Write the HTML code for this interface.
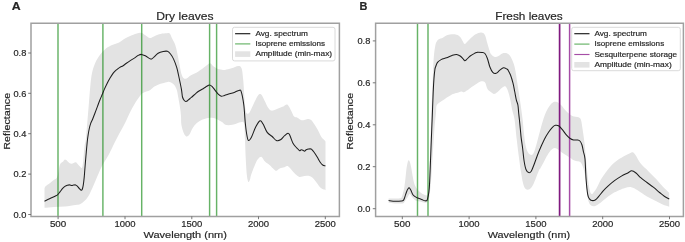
<!DOCTYPE html>
<html><head><meta charset="utf-8"><style>
html,body{margin:0;padding:0;background:#fff;}
body{width:685px;height:242px;overflow:hidden;}
svg{display:block;will-change:transform;filter:blur(0.35px);}
text{font-family:"Liberation Sans", sans-serif;fill:#262626;stroke:#262626;stroke-width:0.18px;}
</style></head><body>
<svg width="685" height="242" viewBox="0 0 685 242">
<rect x="0" y="0" width="685" height="242" fill="#fff"/>
<clipPath id="ca"><rect x="31" y="23.2" width="308.4" height="193.20000000000002"/></clipPath>
<g clip-path="url(#ca)">
<path d="M44.50,188.50 C44.60,188.22 44.77,187.32 45.10,186.80 C45.43,186.28 45.90,185.88 46.50,185.40 C47.10,184.92 47.85,184.52 48.70,183.90 C49.55,183.28 50.63,182.42 51.60,181.70 C52.57,180.98 53.65,180.20 54.50,179.60 C55.35,179.00 56.10,179.07 56.70,178.10 C57.30,177.13 57.62,175.85 58.10,173.80 C58.58,171.75 59.12,167.62 59.60,165.80 C60.08,163.98 60.40,163.63 61.00,162.90 C61.60,162.17 62.53,161.95 63.20,161.40 C63.87,160.85 64.33,159.68 65.00,159.60 C65.67,159.52 66.48,160.33 67.20,160.90 C67.92,161.47 68.58,162.52 69.30,163.00 C70.02,163.48 70.77,163.80 71.50,163.80 C72.23,163.80 72.97,163.25 73.70,163.00 C74.43,162.75 75.18,162.05 75.90,162.30 C76.62,162.55 77.28,163.77 78.00,164.50 C78.72,165.23 79.58,166.12 80.20,166.70 C80.82,167.28 81.30,168.20 81.70,168.00 C82.10,167.80 82.33,166.83 82.60,165.50 C82.87,164.17 83.10,161.87 83.30,160.00 C83.50,158.13 83.58,156.63 83.80,154.30 C84.02,151.97 84.22,148.92 84.60,146.00 C84.98,143.08 85.40,143.72 86.10,136.80 C86.80,129.88 87.95,114.30 88.80,104.50 C89.65,94.70 90.28,84.55 91.20,78.00 C92.12,71.45 93.08,68.72 94.30,65.20 C95.52,61.68 96.77,59.48 98.50,56.90 C100.23,54.32 102.63,51.58 104.70,49.70 C106.77,47.82 108.50,46.80 110.90,45.60 C113.30,44.40 116.75,43.68 119.10,42.50 C121.45,41.32 122.63,39.80 125.00,38.50 C127.37,37.20 130.72,35.67 133.30,34.70 C135.88,33.73 138.43,32.58 140.50,32.70 C142.57,32.82 144.15,34.52 145.70,35.40 C147.25,36.28 148.43,37.83 149.80,38.00 C151.17,38.17 152.35,37.02 153.90,36.40 C155.45,35.78 157.20,34.82 159.10,34.30 C161.00,33.78 163.58,33.47 165.30,33.30 C167.02,33.13 168.28,32.47 169.40,33.30 C170.52,34.13 171.05,36.43 172.00,38.30 C172.95,40.17 174.23,42.10 175.10,44.50 C175.97,46.90 176.52,49.60 177.20,52.70 C177.88,55.80 178.52,59.65 179.20,63.10 C179.88,66.55 180.60,70.93 181.30,73.40 C182.00,75.87 182.53,77.03 183.40,77.90 C184.27,78.77 185.30,79.00 186.50,78.60 C187.70,78.20 188.88,76.53 190.60,75.50 C192.32,74.47 194.73,73.62 196.80,72.40 C198.87,71.18 201.28,69.42 203.00,68.20 C204.72,66.98 205.90,65.92 207.10,65.10 C208.30,64.28 209.17,63.12 210.20,63.30 C211.23,63.48 212.27,65.38 213.30,66.20 C214.33,67.02 215.37,67.68 216.40,68.20 C217.43,68.72 218.57,69.05 219.50,69.30 C220.43,69.55 221.08,69.60 222.00,69.70 C222.92,69.80 223.40,70.13 225.00,69.90 C226.60,69.67 229.40,68.95 231.60,68.30 C233.80,67.65 236.55,66.00 238.20,66.00 C239.85,66.00 240.67,66.00 241.50,68.30 C242.33,70.60 242.53,72.92 243.20,79.80 C243.87,86.68 244.62,103.98 245.50,109.60 C246.38,115.22 247.50,113.68 248.50,113.50 C249.50,113.32 250.42,110.58 251.50,108.50 C252.58,106.42 253.92,103.17 255.00,101.00 C256.08,98.83 257.17,96.67 258.00,95.50 C258.83,94.33 259.33,94.00 260.00,94.00 C260.67,94.00 261.17,94.25 262.00,95.50 C262.83,96.75 264.00,99.50 265.00,101.50 C266.00,103.50 266.95,105.98 268.00,107.50 C269.05,109.02 269.90,110.32 271.30,110.60 C272.70,110.88 274.42,109.87 276.40,109.20 C278.38,108.53 281.77,107.27 283.20,106.60 C284.63,105.93 284.32,105.55 285.00,105.20 C285.68,104.85 286.55,104.12 287.30,104.50 C288.05,104.88 288.75,106.25 289.50,107.50 C290.25,108.75 291.03,110.48 291.80,112.00 C292.57,113.52 293.15,115.65 294.10,116.60 C295.05,117.55 296.37,117.13 297.50,117.70 C298.63,118.27 299.77,119.62 300.90,120.00 C302.03,120.38 303.17,120.18 304.30,120.00 C305.43,119.82 306.57,118.90 307.70,118.90 C308.83,118.90 309.97,119.07 311.10,120.00 C312.23,120.93 313.35,122.80 314.50,124.50 C315.65,126.20 316.85,128.12 318.00,130.20 C319.15,132.28 320.27,135.28 321.40,137.00 C322.53,138.72 324.12,139.75 324.80,140.50 C325.48,141.25 325.38,141.33 325.50,141.50 L325.50,190.30 C325.10,190.13 324.02,189.82 323.10,189.30 C322.18,188.78 321.03,188.23 320.00,187.20 C318.97,186.17 317.93,184.48 316.90,183.10 C315.87,181.72 314.83,180.02 313.80,178.90 C312.77,177.78 311.92,176.92 310.70,176.40 C309.48,175.88 307.88,175.80 306.50,175.80 C305.12,175.80 303.60,176.22 302.40,176.40 C301.20,176.58 300.33,177.17 299.30,176.90 C298.27,176.63 297.23,175.67 296.20,174.80 C295.17,173.93 294.52,173.15 293.10,171.70 C291.68,170.25 289.17,166.83 287.70,166.10 C286.23,165.37 285.62,166.92 284.30,167.30 C282.98,167.68 281.12,167.83 279.80,168.40 C278.48,168.97 277.35,170.52 276.40,170.70 C275.45,170.88 275.25,170.45 274.10,169.50 C272.95,168.55 271.02,166.32 269.50,165.00 C267.98,163.68 266.32,162.93 265.00,161.60 C263.68,160.27 262.68,157.52 261.60,157.00 C260.52,156.48 259.45,157.55 258.50,158.50 C257.55,159.45 257.08,160.10 255.90,162.70 C254.72,165.30 252.38,171.30 251.40,174.10 C250.42,176.90 250.47,178.18 250.00,179.50 C249.53,180.82 248.97,181.83 248.60,182.00 C248.23,182.17 248.10,181.75 247.80,180.50 C247.50,179.25 247.15,178.25 246.80,174.50 C246.45,170.75 246.00,163.75 245.70,158.00 C245.40,152.25 245.28,145.75 245.00,140.00 C244.72,134.25 244.75,126.45 244.00,123.50 C243.25,120.55 242.23,122.13 240.50,122.30 C238.77,122.47 235.98,124.05 233.60,124.50 C231.22,124.95 228.13,125.42 226.20,125.00 C224.27,124.58 223.45,122.92 222.00,122.00 C220.55,121.08 218.95,120.17 217.50,119.50 C216.05,118.83 214.85,118.25 213.30,118.00 C211.75,117.75 210.08,117.70 208.20,118.00 C206.32,118.30 203.90,118.97 202.00,119.80 C200.10,120.63 198.35,121.62 196.80,123.00 C195.25,124.38 193.90,126.22 192.70,128.10 C191.50,129.98 190.57,132.90 189.60,134.30 C188.63,135.70 187.70,136.38 186.90,136.50 C186.10,136.62 185.45,135.92 184.80,135.00 C184.15,134.08 183.58,132.83 183.00,131.00 C182.42,129.17 181.63,126.50 181.30,124.00 C180.97,121.50 181.20,118.65 181.00,116.00 C180.80,113.35 180.53,111.08 180.10,108.10 C179.67,105.12 178.95,101.13 178.40,98.10 C177.85,95.07 177.48,92.10 176.80,89.90 C176.12,87.70 175.27,86.15 174.30,84.90 C173.33,83.65 172.10,82.90 171.00,82.40 C169.90,81.90 169.08,81.75 167.70,81.90 C166.32,82.05 164.22,82.85 162.70,83.30 C161.18,83.75 159.98,84.05 158.60,84.60 C157.22,85.15 155.78,85.72 154.40,86.60 C153.02,87.48 151.67,89.08 150.30,89.90 C148.93,90.72 147.58,90.90 146.20,91.50 C144.82,92.10 143.10,92.67 142.00,93.50 C140.90,94.33 140.83,94.77 139.60,96.50 C138.37,98.23 136.25,101.15 134.60,103.90 C132.95,106.65 131.33,109.72 129.70,113.00 C128.07,116.28 126.85,119.55 124.80,123.60 C122.75,127.65 119.67,132.95 117.40,137.30 C115.13,141.65 112.87,146.40 111.20,149.70 C109.53,153.00 108.60,154.97 107.40,157.10 C106.20,159.23 104.98,160.85 104.00,162.50 C103.02,164.15 102.40,165.18 101.50,167.00 C100.60,168.82 99.60,171.12 98.60,173.40 C97.60,175.68 96.53,178.28 95.50,180.70 C94.47,183.12 93.60,185.32 92.40,187.90 C91.20,190.48 89.68,193.97 88.30,196.20 C86.92,198.43 85.48,199.97 84.10,201.30 C82.72,202.63 81.42,203.58 80.00,204.20 C78.58,204.82 78.12,204.62 75.60,205.00 C73.08,205.38 68.48,206.17 64.90,206.50 C61.32,206.83 57.50,206.78 54.10,207.00 C50.70,207.22 46.10,207.67 44.50,207.80 Z" fill="#e3e3e3" stroke="none"/>
<line x1="58.0" y1="23.2" x2="58.0" y2="216.4" stroke="#008000" stroke-opacity="0.6" stroke-width="1.45"/>
<line x1="102.9" y1="23.2" x2="102.9" y2="216.4" stroke="#008000" stroke-opacity="0.6" stroke-width="1.45"/>
<line x1="141.7" y1="23.2" x2="141.7" y2="216.4" stroke="#008000" stroke-opacity="0.6" stroke-width="1.45"/>
<line x1="209.6" y1="23.2" x2="209.6" y2="216.4" stroke="#008000" stroke-opacity="0.6" stroke-width="1.45"/>
<line x1="216.6" y1="23.2" x2="216.6" y2="216.4" stroke="#008000" stroke-opacity="0.6" stroke-width="1.45"/>
<path d="M44.50,201.20 C45.43,200.75 48.35,199.33 50.10,198.50 C51.85,197.67 53.77,196.82 55.00,196.20 C56.23,195.58 56.67,195.52 57.50,194.80 C58.33,194.08 59.18,192.92 60.00,191.90 C60.82,190.88 61.58,189.62 62.40,188.70 C63.22,187.78 64.07,186.98 64.90,186.40 C65.73,185.82 66.57,185.45 67.40,185.20 C68.23,184.95 69.18,184.85 69.90,184.90 C70.62,184.95 71.08,185.47 71.70,185.50 C72.32,185.53 72.97,185.20 73.60,185.10 C74.23,185.00 74.88,184.73 75.50,184.90 C76.12,185.07 76.68,185.52 77.30,186.10 C77.92,186.68 78.57,187.72 79.20,188.40 C79.83,189.08 80.58,190.07 81.10,190.20 C81.62,190.33 81.93,190.08 82.30,189.20 C82.67,188.32 82.98,186.87 83.30,184.90 C83.62,182.93 83.95,179.88 84.20,177.40 C84.45,174.92 84.57,172.90 84.80,170.00 C85.03,167.10 85.35,163.00 85.60,160.00 C85.85,157.00 86.02,155.12 86.30,152.00 C86.58,148.88 86.98,144.22 87.30,141.30 C87.62,138.38 87.87,136.63 88.20,134.50 C88.53,132.37 88.87,130.38 89.30,128.50 C89.73,126.62 90.27,124.70 90.80,123.20 C91.33,121.70 91.80,121.20 92.50,119.50 C93.20,117.80 94.18,115.15 95.00,113.00 C95.82,110.85 96.58,108.77 97.40,106.60 C98.22,104.43 99.10,102.02 99.90,100.00 C100.70,97.98 101.48,96.23 102.20,94.50 C102.92,92.77 103.47,91.28 104.20,89.60 C104.93,87.92 105.65,86.28 106.60,84.40 C107.55,82.52 108.80,80.18 109.90,78.30 C111.00,76.42 112.10,74.52 113.20,73.10 C114.30,71.68 115.40,70.75 116.50,69.80 C117.60,68.85 118.70,68.08 119.80,67.40 C120.90,66.72 122.00,66.40 123.10,65.70 C124.20,65.00 125.02,64.17 126.40,63.20 C127.78,62.23 129.88,60.87 131.40,59.90 C132.92,58.93 134.40,58.13 135.50,57.40 C136.60,56.67 137.00,56.00 138.00,55.50 C139.00,55.00 140.22,54.32 141.50,54.40 C142.78,54.48 144.15,55.22 145.70,56.00 C147.25,56.78 149.43,58.92 150.80,59.10 C152.17,59.28 152.68,58.07 153.90,57.10 C155.12,56.13 156.55,54.23 158.10,53.30 C159.65,52.37 161.65,51.83 163.20,51.50 C164.75,51.17 166.18,50.88 167.40,51.30 C168.62,51.72 169.47,52.70 170.50,54.00 C171.53,55.30 172.57,56.87 173.60,59.10 C174.63,61.33 175.88,64.75 176.70,67.40 C177.52,70.05 177.72,71.38 178.50,75.00 C179.28,78.62 180.73,85.43 181.40,89.10 C182.07,92.77 182.02,95.10 182.50,97.00 C182.98,98.90 183.75,99.75 184.30,100.50 C184.85,101.25 185.27,101.45 185.80,101.50 C186.33,101.55 186.80,101.30 187.50,100.80 C188.20,100.30 189.18,99.22 190.00,98.50 C190.82,97.78 191.48,97.28 192.40,96.50 C193.32,95.72 194.47,94.67 195.50,93.80 C196.53,92.93 197.22,92.23 198.60,91.30 C199.98,90.37 202.42,89.03 203.80,88.20 C205.18,87.37 205.98,86.83 206.90,86.30 C207.82,85.77 208.45,84.98 209.30,85.00 C210.15,85.02 211.03,85.52 212.00,86.40 C212.97,87.28 214.07,89.00 215.10,90.30 C216.13,91.60 217.17,93.22 218.20,94.20 C219.23,95.18 220.27,95.98 221.30,96.20 C222.33,96.42 223.02,95.90 224.40,95.50 C225.78,95.10 227.87,94.35 229.60,93.80 C231.33,93.25 233.25,92.77 234.80,92.20 C236.35,91.63 237.83,90.50 238.90,90.40 C239.97,90.30 240.38,89.17 241.20,91.60 C242.02,94.03 243.13,99.93 243.80,105.00 C244.47,110.07 244.73,117.25 245.20,122.00 C245.67,126.75 246.08,130.45 246.60,133.50 C247.12,136.55 247.52,139.63 248.30,140.30 C249.08,140.97 250.05,139.75 251.30,137.50 C252.55,135.25 254.33,129.58 255.80,126.80 C257.27,124.02 258.88,121.25 260.10,120.80 C261.32,120.35 261.92,122.17 263.10,124.10 C264.28,126.03 265.68,130.33 267.20,132.40 C268.72,134.47 270.68,135.17 272.20,136.50 C273.72,137.83 274.92,139.85 276.30,140.40 C277.68,140.95 279.12,140.58 280.50,139.80 C281.88,139.02 283.35,136.78 284.60,135.70 C285.85,134.62 287.15,133.42 288.00,133.30 C288.85,133.18 289.15,134.03 289.70,135.00 C290.25,135.97 290.75,137.73 291.30,139.10 C291.85,140.47 292.32,141.97 293.00,143.20 C293.68,144.43 294.58,145.53 295.40,146.50 C296.22,147.47 297.20,148.30 297.90,149.00 C298.60,149.70 299.05,150.57 299.60,150.70 C300.15,150.83 300.65,149.88 301.20,149.80 C301.75,149.72 302.35,149.97 302.90,150.20 C303.45,150.43 303.95,151.27 304.50,151.20 C305.05,151.13 305.50,150.17 306.20,149.80 C306.90,149.43 307.88,149.13 308.70,149.00 C309.52,148.87 310.42,148.72 311.10,149.00 C311.78,149.28 312.10,149.87 312.80,150.70 C313.50,151.53 314.47,152.77 315.30,154.00 C316.13,155.23 316.98,156.73 317.80,158.10 C318.62,159.47 319.38,161.05 320.20,162.20 C321.02,163.35 321.83,164.37 322.70,165.00 C323.57,165.63 324.95,165.83 325.40,166.00" fill="none" stroke="#1e1e1e" stroke-width="1.05" stroke-linejoin="round"/>
</g>
<path d="M31,23.2 H339.4 V216.4 H31 Z" fill="none" stroke="#a0a0a0" stroke-width="1.5" stroke-linecap="square"/>
<line x1="58.1" y1="216.4" x2="58.1" y2="219.20000000000002" stroke="#6a6a6a" stroke-width="0.9"/>
<line x1="125.0" y1="216.4" x2="125.0" y2="219.20000000000002" stroke="#6a6a6a" stroke-width="0.9"/>
<line x1="191.8" y1="216.4" x2="191.8" y2="219.20000000000002" stroke="#6a6a6a" stroke-width="0.9"/>
<line x1="258.5" y1="216.4" x2="258.5" y2="219.20000000000002" stroke="#6a6a6a" stroke-width="0.9"/>
<line x1="325.3" y1="216.4" x2="325.3" y2="219.20000000000002" stroke="#6a6a6a" stroke-width="0.9"/>
<line x1="28.2" y1="214.5" x2="31" y2="214.5" stroke="#6a6a6a" stroke-width="0.9"/>
<line x1="28.2" y1="174.1" x2="31" y2="174.1" stroke="#6a6a6a" stroke-width="0.9"/>
<line x1="28.2" y1="133.7" x2="31" y2="133.7" stroke="#6a6a6a" stroke-width="0.9"/>
<line x1="28.2" y1="93.3" x2="31" y2="93.3" stroke="#6a6a6a" stroke-width="0.9"/>
<line x1="28.2" y1="53.0" x2="31" y2="53.0" stroke="#6a6a6a" stroke-width="0.9"/>
<clipPath id="cb"><rect x="375.6" y="23.2" width="307.79999999999995" height="193.20000000000002"/></clipPath>
<g clip-path="url(#cb)">
<path d="M388.60,198.40 C390.35,198.40 396.95,198.55 399.10,198.40 C401.25,198.25 400.77,198.73 401.50,197.50 C402.23,196.27 403.00,192.92 403.50,191.00 C404.00,189.08 404.17,188.17 404.50,186.00 C404.83,183.83 405.17,180.92 405.50,178.00 C405.83,175.08 406.13,171.13 406.50,168.50 C406.87,165.87 407.32,163.57 407.70,162.20 C408.08,160.83 408.42,160.25 408.80,160.30 C409.18,160.35 409.60,161.30 410.00,162.50 C410.40,163.70 410.87,165.88 411.20,167.50 C411.53,169.12 411.70,170.45 412.00,172.20 C412.30,173.95 412.65,176.20 413.00,178.00 C413.35,179.80 413.68,181.58 414.10,183.00 C414.52,184.42 414.95,185.43 415.50,186.50 C416.05,187.57 416.57,188.40 417.40,189.40 C418.23,190.40 419.43,191.63 420.50,192.50 C421.57,193.37 422.80,194.12 423.80,194.60 C424.80,195.08 425.83,195.75 426.50,195.40 C427.17,195.05 427.42,194.73 427.80,192.50 C428.18,190.27 428.43,188.25 428.80,182.00 C429.17,175.75 429.63,164.50 430.00,155.00 C430.37,145.50 430.67,134.67 431.00,125.00 C431.33,115.33 431.70,104.83 432.00,97.00 C432.30,89.17 432.57,83.67 432.80,78.00 C433.03,72.33 433.15,67.33 433.40,63.00 C433.65,58.67 433.93,55.13 434.30,52.00 C434.67,48.87 435.18,45.95 435.60,44.20 C436.02,42.45 436.33,42.27 436.80,41.50 C437.27,40.73 437.78,40.08 438.40,39.60 C439.02,39.12 439.75,38.90 440.50,38.60 C441.25,38.30 441.73,38.38 442.90,37.80 C444.07,37.22 445.98,35.70 447.50,35.10 C449.02,34.50 450.50,34.27 452.00,34.20 C453.50,34.13 455.13,34.25 456.50,34.70 C457.87,35.15 459.13,35.77 460.20,36.90 C461.27,38.03 462.15,40.32 462.90,41.50 C463.65,42.68 463.93,44.00 464.70,44.00 C465.47,44.00 466.43,42.53 467.50,41.50 C468.57,40.47 469.75,39.02 471.10,37.80 C472.45,36.58 473.92,35.10 475.60,34.20 C477.28,33.30 479.65,32.28 481.20,32.40 C482.75,32.52 483.87,33.05 484.90,34.90 C485.93,36.75 486.63,40.90 487.40,43.50 C488.17,46.10 488.88,48.70 489.50,50.50 C490.12,52.30 490.22,53.22 491.10,54.30 C491.98,55.38 493.57,56.72 494.80,57.00 C496.03,57.28 497.25,56.58 498.50,56.00 C499.75,55.42 500.85,53.92 502.30,53.50 C503.75,53.08 505.77,52.87 507.20,53.50 C508.63,54.13 509.65,55.02 510.90,57.30 C512.15,59.58 513.62,62.83 514.70,67.20 C515.78,71.57 516.48,77.73 517.40,83.50 C518.32,89.27 519.33,95.85 520.20,101.80 C521.07,107.75 521.98,114.00 522.60,119.20 C523.22,124.40 523.42,128.70 523.90,133.00 C524.38,137.30 524.90,141.92 525.50,145.00 C526.10,148.08 526.75,149.92 527.50,151.50 C528.25,153.08 529.08,154.08 530.00,154.50 C530.92,154.92 532.00,155.42 533.00,154.00 C534.00,152.58 534.83,149.83 536.00,146.00 C537.17,142.17 538.50,136.25 540.00,131.00 C541.50,125.75 543.17,119.00 545.00,114.50 C546.83,110.00 549.17,106.13 551.00,104.00 C552.83,101.87 554.33,101.53 556.00,101.70 C557.67,101.87 559.32,103.45 561.00,105.00 C562.68,106.55 564.22,109.17 566.10,111.00 C567.98,112.83 570.23,114.95 572.30,116.00 C574.37,117.05 577.05,116.63 578.50,117.30 C579.95,117.97 580.35,118.22 581.00,120.00 C581.65,121.78 581.78,123.90 582.40,128.00 C583.02,132.10 584.02,138.43 584.70,144.60 C585.38,150.77 585.88,158.77 586.50,165.00 C587.12,171.23 587.87,177.83 588.40,182.00 C588.93,186.17 589.23,188.03 589.70,190.00 C590.17,191.97 590.65,193.27 591.20,193.80 C591.75,194.33 592.13,194.07 593.00,193.20 C593.87,192.33 595.08,190.88 596.40,188.60 C597.72,186.32 599.38,182.15 600.90,179.50 C602.42,176.85 603.98,174.78 605.50,172.70 C607.02,170.62 608.50,168.70 610.00,167.00 C611.50,165.30 612.98,163.82 614.50,162.50 C616.02,161.18 617.38,160.23 619.10,159.10 C620.82,157.97 623.07,156.65 624.80,155.70 C626.53,154.75 628.15,153.97 629.50,153.40 C630.85,152.83 631.82,151.92 632.90,152.30 C633.98,152.68 634.70,153.82 636.00,155.70 C637.30,157.58 638.60,160.98 640.70,163.60 C642.80,166.22 645.98,168.78 648.60,171.40 C651.22,174.02 654.05,176.78 656.40,179.30 C658.75,181.82 660.57,184.25 662.70,186.50 C664.83,188.75 668.12,191.75 669.20,192.80 L669.20,206.70 C668.12,206.33 664.83,205.40 662.70,204.50 C660.57,203.60 659.02,202.62 656.40,201.30 C653.78,199.98 650.13,198.43 647.00,196.60 C643.87,194.77 640.22,191.87 637.60,190.30 C634.98,188.73 633.40,187.58 631.30,187.20 C629.20,186.82 626.95,187.52 625.00,188.00 C623.05,188.48 621.73,189.13 619.60,190.10 C617.47,191.07 614.68,192.27 612.20,193.80 C609.72,195.33 607.18,197.43 604.70,199.30 C602.22,201.17 599.47,203.92 597.30,205.00 C595.13,206.08 593.25,206.75 591.70,205.80 C590.15,204.85 589.03,203.93 588.00,199.30 C586.97,194.67 586.20,182.92 585.50,178.00 C584.80,173.08 584.37,172.00 583.80,169.80 C583.23,167.60 582.65,166.05 582.10,164.80 C581.55,163.55 581.18,162.88 580.50,162.30 C579.82,161.72 578.75,161.52 578.00,161.30 C577.25,161.08 576.82,161.22 576.00,161.00 C575.18,160.78 574.00,160.50 573.10,160.00 C572.20,159.50 571.57,158.67 570.60,158.00 C569.63,157.33 568.32,156.62 567.30,156.00 C566.28,155.38 565.47,154.92 564.50,154.30 C563.53,153.68 562.58,153.10 561.50,152.30 C560.42,151.50 559.08,150.20 558.00,149.50 C556.92,148.80 555.93,148.18 555.00,148.10 C554.07,148.02 553.25,148.45 552.40,149.00 C551.55,149.55 550.87,150.15 549.90,151.40 C548.93,152.65 547.70,154.55 546.60,156.50 C545.50,158.45 544.40,161.03 543.30,163.10 C542.20,165.17 540.72,167.70 540.00,168.90 C539.28,170.10 540.08,167.78 539.00,170.30 C537.92,172.82 535.08,180.83 533.50,184.00 C531.92,187.17 530.85,188.50 529.50,189.30 C528.15,190.10 526.48,189.85 525.40,188.80 C524.32,187.75 523.73,185.80 523.00,183.00 C522.27,180.20 521.67,176.17 521.00,172.00 C520.33,167.83 519.70,163.33 519.00,158.00 C518.30,152.67 517.55,146.47 516.80,140.00 C516.05,133.53 515.27,124.20 514.50,119.20 C513.73,114.20 512.87,113.10 512.20,110.00 C511.53,106.90 511.05,103.27 510.50,100.60 C509.95,97.93 509.45,95.93 508.90,94.00 C508.35,92.07 507.75,90.25 507.20,89.00 C506.65,87.75 506.15,86.92 505.60,86.50 C505.05,86.08 504.73,86.08 503.90,86.50 C503.07,86.92 501.70,88.03 500.60,89.00 C499.50,89.97 498.40,91.47 497.30,92.30 C496.20,93.13 495.03,94.02 494.00,94.00 C492.97,93.98 491.98,92.77 491.10,92.20 C490.22,91.63 489.38,91.28 488.70,90.60 C488.02,89.92 487.55,89.35 487.00,88.10 C486.45,86.85 485.95,84.20 485.40,83.10 C484.85,82.00 484.53,81.77 483.70,81.50 C482.87,81.23 481.63,81.08 480.40,81.50 C479.17,81.92 477.82,83.03 476.30,84.00 C474.78,84.97 472.60,86.38 471.30,87.30 C470.00,88.22 469.32,88.93 468.50,89.50 C467.68,90.07 467.17,90.23 466.40,90.70 C465.63,91.17 464.73,92.17 463.90,92.30 C463.07,92.43 462.65,91.37 461.40,91.50 C460.15,91.63 458.05,92.55 456.40,93.10 C454.75,93.65 453.42,93.83 451.50,94.80 C449.58,95.77 446.83,97.67 444.90,98.90 C442.97,100.13 441.28,101.10 439.90,102.20 C438.52,103.30 437.25,103.70 436.60,105.50 C435.95,107.30 436.35,109.25 436.00,113.00 C435.65,116.75 435.00,121.83 434.50,128.00 C434.00,134.17 433.50,142.17 433.00,150.00 C432.50,157.83 432.03,167.67 431.50,175.00 C430.97,182.33 430.33,189.75 429.80,194.00 C429.27,198.25 428.93,199.05 428.30,200.50 C427.67,201.95 427.10,202.47 426.00,202.70 C424.90,202.93 422.95,202.13 421.70,201.90 C420.45,201.67 419.58,201.58 418.50,201.30 C417.42,201.02 416.28,200.93 415.20,200.20 C414.12,199.47 412.90,197.95 412.00,196.90 C411.10,195.85 410.52,193.90 409.80,193.90 C409.08,193.90 408.30,196.00 407.70,196.90 C407.10,197.80 406.73,198.47 406.20,199.30 C405.67,200.13 405.13,201.22 404.50,201.90 C403.87,202.58 403.98,203.15 402.40,203.40 C400.82,203.65 397.30,203.50 395.00,203.40 C392.70,203.30 389.67,202.90 388.60,202.80 Z" fill="#e3e3e3" stroke="none"/>
<line x1="417.5" y1="23.2" x2="417.5" y2="216.4" stroke="#008000" stroke-opacity="0.6" stroke-width="1.45"/>
<line x1="428.0" y1="23.2" x2="428.0" y2="216.4" stroke="#008000" stroke-opacity="0.6" stroke-width="1.45"/>
<line x1="559.6" y1="23.2" x2="559.6" y2="216.4" stroke="#80197f" stroke-width="1.7"/>
<line x1="569.6" y1="23.2" x2="569.6" y2="216.4" stroke="#a64da6" stroke-width="1.5"/>
<path d="M388.60,200.60 C389.67,200.72 393.43,201.20 395.00,201.30 C396.57,201.40 396.92,201.25 398.00,201.20 C399.08,201.15 400.60,201.15 401.50,201.00 C402.40,200.85 402.90,200.80 403.40,200.30 C403.90,199.80 404.15,198.92 404.50,198.00 C404.85,197.08 405.13,195.88 405.50,194.80 C405.87,193.72 406.33,192.42 406.70,191.50 C407.07,190.58 407.28,189.92 407.70,189.30 C408.12,188.68 408.67,187.63 409.20,187.80 C409.73,187.97 410.25,189.10 410.90,190.30 C411.55,191.50 412.20,193.82 413.10,195.00 C414.00,196.18 414.87,196.65 416.30,197.40 C417.73,198.15 420.27,198.93 421.70,199.50 C423.13,200.07 424.02,200.65 424.90,200.80 C425.78,200.95 426.47,201.12 427.00,200.40 C427.53,199.68 427.72,198.57 428.10,196.50 C428.48,194.43 428.93,193.07 429.30,188.00 C429.67,182.93 429.97,174.10 430.30,166.10 C430.63,158.10 430.98,148.02 431.30,140.00 C431.62,131.98 431.88,126.00 432.20,118.00 C432.52,110.00 432.90,98.67 433.20,92.00 C433.50,85.33 433.72,81.75 434.00,78.00 C434.28,74.25 434.63,71.35 434.90,69.50 C435.17,67.65 435.17,68.08 435.60,66.90 C436.03,65.72 436.58,63.62 437.50,62.40 C438.42,61.18 439.60,60.37 441.10,59.60 C442.60,58.83 444.68,58.48 446.50,57.80 C448.32,57.12 450.33,56.05 452.00,55.50 C453.67,54.95 455.13,54.42 456.50,54.50 C457.87,54.58 459.13,55.30 460.20,56.00 C461.27,56.70 462.15,57.92 462.90,58.70 C463.65,59.48 464.10,60.55 464.70,60.70 C465.30,60.85 465.58,60.38 466.50,59.60 C467.42,58.82 468.83,57.05 470.20,56.00 C471.57,54.95 473.57,53.90 474.70,53.30 C475.83,52.70 476.47,52.58 477.00,52.40 C477.53,52.22 477.07,52.20 477.90,52.20 C478.73,52.20 480.83,52.18 482.00,52.40 C483.17,52.62 484.00,52.48 484.90,53.50 C485.80,54.52 486.57,56.25 487.40,58.50 C488.23,60.75 489.00,64.68 489.90,67.00 C490.80,69.32 491.77,71.35 492.80,72.40 C493.83,73.45 494.93,73.67 496.10,73.30 C497.27,72.93 498.57,71.13 499.80,70.20 C501.03,69.27 502.27,67.87 503.50,67.70 C504.73,67.53 506.45,68.82 507.20,69.20 C507.95,69.58 507.45,69.03 508.00,70.00 C508.55,70.97 509.67,72.80 510.50,75.00 C511.33,77.20 512.30,80.45 513.00,83.20 C513.70,85.95 514.15,88.73 514.70,91.50 C515.25,94.27 515.77,97.55 516.30,99.80 C516.83,102.05 517.50,102.75 517.90,105.00 C518.30,107.25 518.42,110.55 518.70,113.30 C518.98,116.05 519.32,118.75 519.60,121.50 C519.88,124.25 520.13,127.03 520.40,129.80 C520.67,132.57 520.83,135.07 521.20,138.10 C521.57,141.13 522.12,144.18 522.60,148.00 C523.08,151.82 523.53,157.42 524.10,161.00 C524.67,164.58 525.23,167.57 526.00,169.50 C526.77,171.43 527.80,172.37 528.70,172.60 C529.60,172.83 530.38,172.58 531.40,170.90 C532.42,169.22 533.55,165.73 534.80,162.50 C536.05,159.27 537.32,155.35 538.90,151.50 C540.48,147.65 542.67,142.65 544.30,139.40 C545.93,136.15 547.35,134.02 548.70,132.00 C550.05,129.98 551.28,128.42 552.40,127.30 C553.52,126.18 554.37,125.55 555.40,125.30 C556.43,125.05 557.43,125.07 558.60,125.80 C559.77,126.53 561.15,128.22 562.40,129.70 C563.65,131.18 564.87,133.28 566.10,134.70 C567.33,136.12 568.57,137.32 569.80,138.20 C571.03,139.08 572.25,139.70 573.50,140.00 C574.75,140.30 576.23,139.83 577.30,140.00 C578.37,140.17 579.12,140.17 579.90,141.00 C580.68,141.83 581.40,143.17 582.00,145.00 C582.60,146.83 583.00,149.67 583.50,152.00 C584.00,154.33 584.57,154.42 585.00,159.00 C585.43,163.58 585.65,173.62 586.10,179.50 C586.55,185.38 587.13,191.07 587.70,194.30 C588.27,197.53 588.82,197.87 589.50,198.90 C590.18,199.93 590.85,200.32 591.80,200.50 C592.75,200.68 594.07,200.65 595.20,200.00 C596.33,199.35 597.27,198.12 598.60,196.60 C599.93,195.08 601.68,192.60 603.20,190.90 C604.72,189.20 605.82,188.10 607.70,186.40 C609.58,184.70 612.22,182.42 614.50,180.70 C616.78,178.98 619.12,177.43 621.40,176.10 C623.68,174.77 626.50,173.58 628.20,172.70 C629.90,171.82 630.30,170.75 631.60,170.80 C632.90,170.85 634.48,171.85 636.00,173.00 C637.52,174.15 638.87,176.12 640.70,177.70 C642.53,179.28 644.90,180.92 647.00,182.50 C649.10,184.08 651.20,185.53 653.30,187.20 C655.40,188.87 657.77,190.98 659.60,192.50 C661.43,194.02 662.70,195.20 664.30,196.30 C665.90,197.40 668.38,198.63 669.20,199.10" fill="none" stroke="#1e1e1e" stroke-width="1.05" stroke-linejoin="round"/>
</g>
<path d="M375.6,23.2 H683.4 V216.4 H375.6 Z" fill="none" stroke="#a0a0a0" stroke-width="1.5" stroke-linecap="square"/>
<line x1="402.3" y1="216.4" x2="402.3" y2="219.20000000000002" stroke="#6a6a6a" stroke-width="0.9"/>
<line x1="469.1" y1="216.4" x2="469.1" y2="219.20000000000002" stroke="#6a6a6a" stroke-width="0.9"/>
<line x1="535.9" y1="216.4" x2="535.9" y2="219.20000000000002" stroke="#6a6a6a" stroke-width="0.9"/>
<line x1="602.7" y1="216.4" x2="602.7" y2="219.20000000000002" stroke="#6a6a6a" stroke-width="0.9"/>
<line x1="669.5" y1="216.4" x2="669.5" y2="219.20000000000002" stroke="#6a6a6a" stroke-width="0.9"/>
<line x1="372.8" y1="208.7" x2="375.6" y2="208.7" stroke="#6a6a6a" stroke-width="0.9"/>
<line x1="372.8" y1="166.7" x2="375.6" y2="166.7" stroke="#6a6a6a" stroke-width="0.9"/>
<line x1="372.8" y1="124.8" x2="375.6" y2="124.8" stroke="#6a6a6a" stroke-width="0.9"/>
<line x1="372.8" y1="82.8" x2="375.6" y2="82.8" stroke="#6a6a6a" stroke-width="0.9"/>
<line x1="372.8" y1="40.9" x2="375.6" y2="40.9" stroke="#6a6a6a" stroke-width="0.9"/>
<rect x="232.5" y="27.3" width="102.5" height="33.6" rx="2" ry="2" fill="#ffffff" fill-opacity="0.85" stroke="#d6d6d6" stroke-width="0.9"/>
<line x1="235.1" y1="33.7" x2="250.3" y2="33.7" stroke="#1a1a1a" stroke-width="1.15"/>
<line x1="235.1" y1="43.9" x2="250.3" y2="43.9" stroke="#66b366" stroke-width="1.15"/>
<rect x="235.1" y="51.300000000000004" width="15.2" height="5.6" fill="#e3e3e3"/>
<rect x="571.7" y="27.3" width="108.6" height="43.4" rx="2" ry="2" fill="#ffffff" fill-opacity="0.85" stroke="#d6d6d6" stroke-width="0.9"/>
<line x1="574.3000000000001" y1="33.7" x2="589.5" y2="33.7" stroke="#1a1a1a" stroke-width="1.15"/>
<line x1="574.3000000000001" y1="44.1" x2="589.5" y2="44.1" stroke="#66b366" stroke-width="1.15"/>
<line x1="574.3000000000001" y1="54.5" x2="589.5" y2="54.5" stroke="#a64da6" stroke-width="1.15"/>
<rect x="574.3000000000001" y="62.0" width="15.2" height="5.6" fill="#e3e3e3"/>
<text x="255.4" y="35.900000000000006" font-size="7.5" textLength="52.6" lengthAdjust="spacingAndGlyphs">Avg. spectrum</text>
<text x="255.4" y="46.1" font-size="7.5" textLength="69.6" lengthAdjust="spacingAndGlyphs">Isoprene emissions</text>
<text x="255.4" y="56.300000000000004" font-size="7.5" textLength="76.7" lengthAdjust="spacingAndGlyphs">Amplitude (min-max)</text>
<text x="594.4" y="35.900000000000006" font-size="7.5" textLength="52.5" lengthAdjust="spacingAndGlyphs">Avg. spectrum</text>
<text x="594.4" y="46.300000000000004" font-size="7.5" textLength="69.8" lengthAdjust="spacingAndGlyphs">Isoprene emissions</text>
<text x="594.4" y="56.7" font-size="7.5" textLength="82.7" lengthAdjust="spacingAndGlyphs">Sesquiterpene storage</text>
<text x="594.4" y="67.0" font-size="7.5" textLength="77.3" lengthAdjust="spacingAndGlyphs">Amplitude (min-max)</text>
<text x="49.900000000000006" y="227.0" font-size="8.8" textLength="16.4" lengthAdjust="spacingAndGlyphs">500</text>
<text x="114.44999999999999" y="227.0" font-size="8.8" textLength="21.1" lengthAdjust="spacingAndGlyphs">1000</text>
<text x="181.25" y="227.0" font-size="8.8" textLength="21.1" lengthAdjust="spacingAndGlyphs">1500</text>
<text x="247.95" y="227.0" font-size="8.8" textLength="21.1" lengthAdjust="spacingAndGlyphs">2000</text>
<text x="314.75000000000006" y="227.0" font-size="8.8" textLength="21.1" lengthAdjust="spacingAndGlyphs">2500</text>
<text x="394.1" y="227.0" font-size="8.8" textLength="16.4" lengthAdjust="spacingAndGlyphs">500</text>
<text x="458.55000000000007" y="227.0" font-size="8.8" textLength="21.1" lengthAdjust="spacingAndGlyphs">1000</text>
<text x="525.35" y="227.0" font-size="8.8" textLength="21.1" lengthAdjust="spacingAndGlyphs">1500</text>
<text x="592.1500000000001" y="227.0" font-size="8.8" textLength="21.1" lengthAdjust="spacingAndGlyphs">2000</text>
<text x="658.95" y="227.0" font-size="8.8" textLength="21.1" lengthAdjust="spacingAndGlyphs">2500</text>
<text x="13.4" y="217.75" font-size="8.8" textLength="12.9" lengthAdjust="spacingAndGlyphs">0.0</text>
<text x="13.4" y="177.35" font-size="8.8" textLength="12.9" lengthAdjust="spacingAndGlyphs">0.2</text>
<text x="13.4" y="136.95" font-size="8.8" textLength="12.9" lengthAdjust="spacingAndGlyphs">0.4</text>
<text x="13.4" y="96.55" font-size="8.8" textLength="12.9" lengthAdjust="spacingAndGlyphs">0.6</text>
<text x="13.4" y="56.25" font-size="8.8" textLength="12.9" lengthAdjust="spacingAndGlyphs">0.8</text>
<text x="357.4" y="211.95" font-size="8.8" textLength="12.9" lengthAdjust="spacingAndGlyphs">0.0</text>
<text x="357.4" y="169.95" font-size="8.8" textLength="12.9" lengthAdjust="spacingAndGlyphs">0.2</text>
<text x="357.4" y="128.05" font-size="8.8" textLength="12.9" lengthAdjust="spacingAndGlyphs">0.4</text>
<text x="357.4" y="86.05" font-size="8.8" textLength="12.9" lengthAdjust="spacingAndGlyphs">0.6</text>
<text x="357.4" y="44.15" font-size="8.8" textLength="12.9" lengthAdjust="spacingAndGlyphs">0.8</text>
<text x="156.3" y="19.7" font-size="10.9" textLength="57.2" lengthAdjust="spacingAndGlyphs">Dry leaves</text>
<text x="495.2" y="19.8" font-size="10.9" textLength="67.6" lengthAdjust="spacingAndGlyphs">Fresh leaves</text>
<text x="143.4" y="238.1" font-size="9.9" textLength="83.6" lengthAdjust="spacingAndGlyphs">Wavelength (nm)</text>
<text x="487.7" y="238.0" font-size="9.9" textLength="82.4" lengthAdjust="spacingAndGlyphs">Wavelength (nm)</text>
<text transform="translate(9.5,149.8) rotate(-90)" x="0" y="0" font-size="9.9" textLength="57.0" lengthAdjust="spacingAndGlyphs">Reflectance</text>
<text transform="translate(353.4,149.8) rotate(-90)" x="0" y="0" font-size="9.9" textLength="57.0" lengthAdjust="spacingAndGlyphs">Reflectance</text>
<text x="11.7" y="10.2" font-size="11.0" textLength="8.9" lengthAdjust="spacingAndGlyphs" font-weight="bold" fill="#000" stroke="#000" stroke-width="0.75">A</text>
<text x="359.6" y="10.3" font-size="11.0" textLength="7.9" lengthAdjust="spacingAndGlyphs" font-weight="bold" fill="#000" stroke="#000" stroke-width="0.75">B</text>
</svg>
</body></html>
